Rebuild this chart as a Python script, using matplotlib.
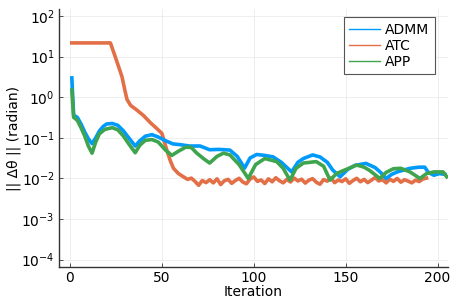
import matplotlib
matplotlib.use('Agg')
import matplotlib.pyplot as plt
from matplotlib.ticker import LogLocator, NullLocator

# values (iteration, residual)
admm_iter = [1, 2, 4, 6, 8, 10, 12, 14, 16, 18, 20, 23, 26, 29, 32, 35.5, 38, 41, 44.6, 48,
             52, 56, 60, 65, 70.8, 76, 81, 87, 91, 95, 98, 101.6, 106, 110.5, 115, 120.6, 124,
             127, 132, 136, 140, 143, 147, 151, 155, 161, 166, 169, 172, 175, 178, 185, 190,
             193, 195, 198, 201, 204]
admm_val = [3.0, 0.36, 0.32, 0.22, 0.14, 0.095, 0.072, 0.1, 0.148, 0.19, 0.22, 0.226, 0.204,
            0.15, 0.1, 0.063, 0.085, 0.11, 0.12, 0.105, 0.085, 0.071, 0.068, 0.063, 0.063, 0.051,
            0.052, 0.05, 0.035, 0.018, 0.032, 0.039, 0.037, 0.034, 0.025, 0.0145, 0.025, 0.031,
            0.038, 0.034, 0.025, 0.016, 0.011, 0.0166, 0.021, 0.0235, 0.0186, 0.0141, 0.01,
            0.0126, 0.0145, 0.0178, 0.019, 0.019, 0.0141, 0.012, 0.0132, 0.0126]

atc_iter = [1, 22, 24.6, 26.5, 28.3, 30, 31, 33, 36, 40, 44, 47, 50, 52.7, 54.5, 56.3, 59, 61.7,
            64, 66, 68, 70, 72, 74, 76, 78, 80, 82, 84, 86, 88, 90, 92, 94, 96, 98, 100, 102,
            104, 106, 108, 110, 112, 114, 116, 118, 120, 122, 124, 126, 128, 130, 132, 134, 136,
            138, 140, 142, 144, 146, 148, 150, 152, 154, 156, 158, 160, 162, 164, 166, 168, 170,
            172, 174, 176, 178, 180, 182, 184, 186, 188, 190, 192, 194]
atc_val = [21.8, 21.8, 10.0, 5.6, 3.2, 1.4, 0.89, 0.63, 0.5, 0.355, 0.23, 0.174, 0.129, 0.05,
           0.028, 0.0178, 0.0132, 0.011,
           0.0095, 0.0102, 0.0085, 0.0068, 0.0089, 0.0079, 0.0093, 0.0078, 0.0098, 0.0071,
           0.0088, 0.0095, 0.0076, 0.0089, 0.0101, 0.0082, 0.0074, 0.0097, 0.0109, 0.0085,
           0.0092, 0.0075, 0.0098, 0.0083, 0.0104, 0.0088, 0.0078, 0.0095, 0.0082, 0.0102,
           0.0087, 0.0096, 0.0077, 0.0091, 0.0099, 0.0081, 0.0072, 0.0094, 0.0086, 0.0103,
           0.0079, 0.0092, 0.0084, 0.0098, 0.0076, 0.0089, 0.0101, 0.0083, 0.0095, 0.0079,
           0.0091, 0.0105, 0.0087, 0.0094, 0.0078, 0.0096, 0.0085, 0.01, 0.0081, 0.0093,
           0.0086, 0.0078, 0.0091, 0.0084, 0.0097, 0.0102]

app_iter = [1, 2, 4, 6, 8, 10, 12, 14, 16, 19, 23, 26, 29, 32, 35.5, 38, 41, 44.6, 48, 52, 55.4,
            59, 63, 66, 69, 73, 76, 80, 83.5, 87, 92, 97, 101, 106, 112.5, 116, 119.7, 123, 127,
            134, 138, 141.5, 145, 149, 156, 160, 163, 168.6, 172, 176, 180, 185, 190.4, 194,
            198, 203, 205]
app_val = [1.5, 0.32, 0.27, 0.178, 0.112, 0.063, 0.042, 0.079, 0.126, 0.162, 0.178, 0.158,
           0.112, 0.071, 0.043, 0.066, 0.087, 0.091, 0.079, 0.05, 0.037, 0.047, 0.059, 0.058,
           0.042, 0.03, 0.024, 0.035, 0.042, 0.038, 0.022, 0.01, 0.022, 0.031, 0.026, 0.0178,
           0.0091, 0.0178, 0.024, 0.026, 0.02, 0.0091, 0.0132, 0.0158, 0.0214, 0.019, 0.0158,
           0.01, 0.0141, 0.0174, 0.0178, 0.0145, 0.01, 0.0132, 0.0145, 0.0145, 0.011]

xticks = [0, 50, 100, 150, 200]

fig = plt.figure(figsize=(4.57, 3.05), dpi=100)
ax = fig.add_axes([0.129, 0.1246, 0.851, 0.8454])

ax.plot(admm_iter, admm_val, color='#009AFA', lw=2.6, label='ADMM', zorder=3)
ax.plot(atc_iter, atc_val, color='#E36F47', lw=2.6, label='ATC', zorder=2)
ax.plot(app_iter, app_val, color='#3EA44E', lw=2.6, label='APP', zorder=4)

ax.set_yscale('log')
ax.set_xlim(-6, 205.6)
ax.set_ylim(10 ** -4.18, 10 ** 2.17)
ax.set_xticks(xticks)
ax.yaxis.set_major_locator(LogLocator(base=10, numticks=10))
ax.yaxis.set_minor_locator(NullLocator())
ax.grid(True, color='#ebebeb', lw=0.6)
ax.set_axisbelow(True)

for side in ['top', 'right']:
    ax.spines[side].set_visible(False)
for side in ['left', 'bottom']:
    ax.spines[side].set_color('#333333')
    ax.spines[side].set_linewidth(1.0)
ax.tick_params(direction='in', length=3, width=0.6, color='#333333', labelsize=10, pad=3)

ax.set_xlabel('Iteration', fontsize=10, labelpad=0)
ax.set_ylabel('|| Δθ || (radian)', fontsize=10, labelpad=0)

leg = ax.legend(loc='upper right', fontsize=10, fancybox=False, framealpha=1,
                edgecolor='#555555', handlelength=2.2, borderaxespad=0,
                bbox_to_anchor=(435 / 457, 1 - 17 / 305), bbox_transform=fig.transFigure,
                labelspacing=0.15, handletextpad=0.4, borderpad=0.4)
leg.get_frame().set_linewidth(0.8)
for line in leg.get_lines():
    line.set_linewidth(1.0)

fig.savefig('out.png', dpi=100)
